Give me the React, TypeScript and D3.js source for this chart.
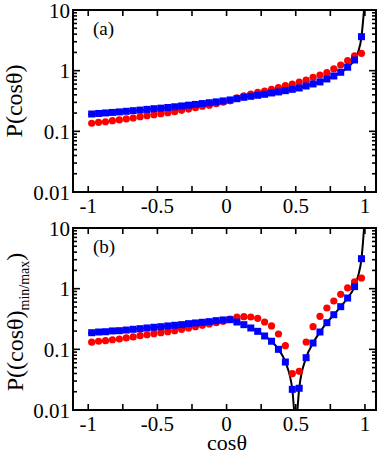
import { useEffect, useRef } from 'react';
import * as d3 from 'd3';

// cos(theta) bin centres shared by all marker series
const cosBins = [
  -0.975, -0.925, -0.875, -0.825, -0.775, -0.725, -0.675, -0.625, -0.575, -0.525,
  -0.475, -0.425, -0.375, -0.325, -0.275, -0.225, -0.175, -0.125, -0.075, -0.025,
  0.025, 0.075, 0.125, 0.175, 0.225, 0.275, 0.325, 0.375, 0.425, 0.475,
  0.525, 0.575, 0.625, 0.675, 0.725, 0.775, 0.825, 0.875, 0.925, 0.975,
];

// panel (a)
const redA = [
  0.136, 0.141, 0.144, 0.15, 0.154, 0.16, 0.166, 0.174, 0.181, 0.188,
  0.195, 0.203, 0.211, 0.222, 0.233, 0.245, 0.259, 0.269, 0.285, 0.303,
  0.318, 0.358, 0.383, 0.412, 0.44, 0.462, 0.493, 0.524, 0.565, 0.603,
  0.651, 0.702, 0.778, 0.849, 0.925, 1.07, 1.24, 1.46, 1.75, 1.93,
];
const blueA = [
  0.193, 0.197, 0.201, 0.205, 0.209, 0.214, 0.219, 0.224, 0.23, 0.236,
  0.241, 0.247, 0.254, 0.262, 0.27, 0.278, 0.287, 0.296, 0.306, 0.317,
  0.329, 0.345, 0.364, 0.378, 0.393, 0.408, 0.429, 0.446, 0.468, 0.493,
  0.518, 0.559, 0.604, 0.652, 0.73, 0.817, 0.94, 1.14, 1.5, 3.63,
];
const curveAx = [-1, -0.8, -0.6, -0.4, -0.2, 0, 0.2, 0.4, 0.6, 0.7, 0.8, 0.85, 0.9, 0.925, 0.95, 0.975, 0.985, 0.995];
const curveAy = [0.19, 0.207, 0.227, 0.25, 0.282, 0.322, 0.385, 0.457, 0.58, 0.69, 0.87, 1.02, 1.28, 1.5, 2.0, 3.6, 6.0, 11];

// panel (b)
const redB = [
  0.131, 0.136, 0.139, 0.144, 0.148, 0.154, 0.16, 0.168, 0.174, 0.181,
  0.188, 0.195, 0.203, 0.214, 0.225, 0.236, 0.249, 0.262, 0.275, 0.29,
  0.315, 0.341, 0.345, 0.341, 0.325, 0.282, 0.243, 0.179, 0.115, 0.0397,
  0.0434, 0.132, 0.236, 0.35, 0.48, 0.626, 0.806, 1.03, 1.3, 1.5,
];
const blueB = [
  0.188, 0.193, 0.195, 0.201, 0.203, 0.208, 0.214, 0.219, 0.225, 0.231,
  0.236, 0.243, 0.249, 0.255, 0.265, 0.272, 0.279, 0.286, 0.297, 0.305,
  0.308, 0.282, 0.255, 0.225, 0.198, 0.166, 0.136, 0.1, 0.0618, 0.0219,
  0.0228, 0.0728, 0.127, 0.193, 0.275, 0.372, 0.505, 0.701, 1.08, 3.12,
];
const curveBx = [
  -1, -0.5, -0.25, -0.05, 0.025, 0.075, 0.125, 0.175, 0.225, 0.275, 0.325, 0.375, 0.425, 0.475,
  0.488, 0.5, 0.512, 0.525, 0.575, 0.625, 0.675, 0.725, 0.775, 0.825, 0.875, 0.925, 0.95, 0.975, 0.985, 0.995,
];
const curveBy = [
  0.185, 0.233, 0.268, 0.3, 0.308, 0.282, 0.255, 0.225, 0.198, 0.166, 0.136, 0.1, 0.0618, 0.0219,
  0.01, 0.005, 0.01, 0.0228, 0.0728, 0.127, 0.193, 0.275, 0.372, 0.505, 0.701, 1.08, 1.6, 3.12, 5.5, 11,
];

const xTickValues = [-1, -0.75, -0.5, -0.25, 0, 0.25, 0.5, 0.75, 1];
const xLabelValues = [-1, -0.5, 0, 0.5, 1];
const xLabels = ['-1', '-0.5', '0', '0.5', '1'];
const yLabelValues = [10, 1, 0.1, 0.01];
const yLabels = ['10', '1', '0.1', '0.01'];

const FONT = 'Liberation Serif, Times New Roman, Times, serif';
const W = 382;
const H = 454;
const LEFT = 73;
const RIGHT = 376;

function drawPanel(svg, { top, bottom, red, blue, cx, cy, tag, id }) {
  const x = d3.scaleLinear().domain([-1.11, 1.08]).range([LEFT, RIGHT]);
  const y = d3.scaleLog().domain([0.01, 10]).range([bottom, top]);
  const g = svg.append('g');

  g.append('clipPath')
    .attr('id', id)
    .append('rect')
    .attr('x', LEFT)
    .attr('y', top)
    .attr('width', RIGHT - LEFT)
    .attr('height', bottom - top);

  const plot = g.append('g').attr('clip-path', `url(#${id})`);

  const curve = cx.map((v, i) => [v, cy[i]]);
  plot
    .append('path')
    .datum(curve)
    .attr('fill', 'none')
    .attr('stroke', '#000')
    .attr('stroke-width', 2)
    .attr(
      'd',
      d3
        .line()
        .x((d) => x(d[0]))
        .y((d) => y(d[1]))
        .curve(d3.curveMonotoneX),
    );

  plot
    .selectAll('circle')
    .data(cosBins.map((v, i) => [v, red[i]]))
    .join('circle')
    .attr('cx', (d) => x(d[0]))
    .attr('cy', (d) => y(d[1]))
    .attr('r', 3.6)
    .attr('fill', '#ff0000');

  const s = 7;
  plot
    .selectAll('rect.sq')
    .data(cosBins.map((v, i) => [v, blue[i]]))
    .join('rect')
    .attr('class', 'sq')
    .attr('x', (d) => x(d[0]) - s / 2)
    .attr('y', (d) => y(d[1]) - s / 2)
    .attr('width', s)
    .attr('height', s)
    .attr('fill', '#0000ff');

  // frame
  g.append('rect')
    .attr('x', LEFT)
    .attr('y', top)
    .attr('width', RIGHT - LEFT)
    .attr('height', bottom - top)
    .attr('fill', 'none')
    .attr('stroke', '#000')
    .attr('stroke-width', 2);

  // x ticks, bottom and top, inward
  xTickValues.forEach((v) => {
    g.append('line')
      .attr('x1', x(v)).attr('x2', x(v))
      .attr('y1', bottom).attr('y2', bottom - 6)
      .attr('stroke', '#000').attr('stroke-width', 1.6);
    g.append('line')
      .attr('x1', x(v)).attr('x2', x(v))
      .attr('y1', top).attr('y2', top + 6)
      .attr('stroke', '#000').attr('stroke-width', 1.6);
  });

  // y ticks, majors at decades, minors in between
  y.ticks().forEach((v) => {
    const l = Math.log10(v);
    const major = Math.abs(l - Math.round(l)) < 1e-6;
    const len = major ? 7 : 4;
    g.append('line')
      .attr('x1', LEFT).attr('x2', LEFT + len)
      .attr('y1', y(v)).attr('y2', y(v))
      .attr('stroke', '#000').attr('stroke-width', 1.6);
    g.append('line')
      .attr('x1', RIGHT).attr('x2', RIGHT - len)
      .attr('y1', y(v)).attr('y2', y(v))
      .attr('stroke', '#000').attr('stroke-width', 1.6);
  });

  g.selectAll('text.ylab')
    .data(yLabelValues)
    .join('text')
    .attr('class', 'ylab')
    .attr('x', LEFT - 3)
    .attr('y', (d) => y(d) + 7.5)
    .attr('text-anchor', 'end')
    .attr('font-family', FONT)
    .attr('font-size', 21)
    .text((d, i) => yLabels[i]);

  g.selectAll('text.xlab')
    .data(xLabelValues)
    .join('text')
    .attr('class', 'xlab')
    .attr('x', (d) => x(d))
    .attr('y', bottom + 21)
    .attr('text-anchor', 'middle')
    .attr('font-family', FONT)
    .attr('font-size', 21)
    .text((d, i) => xLabels[i]);

  g.append('text')
    .attr('x', LEFT + 20)
    .attr('y', top + 25)
    .attr('font-family', FONT)
    .attr('font-size', 19)
    .text(tag);

  return g;
}

export default function App() {
  const ref = useRef(null);

  useEffect(() => {
    document.body.style.margin = '0';
    const svg = d3.select(ref.current);
    svg.selectAll('*').remove();

    drawPanel(svg, { top: 10, bottom: 192, red: redA, blue: blueA, cx: curveAx, cy: curveAy, tag: '(a)', id: 'clipA' });
    drawPanel(svg, { top: 228, bottom: 410, red: redB, blue: blueB, cx: curveBx, cy: curveBy, tag: '(b)', id: 'clipB' });

    svg.append('text')
      .attr('transform', 'translate(22,101) rotate(-90)')
      .attr('text-anchor', 'middle')
      .attr('font-family', FONT)
      .attr('font-size', 24)
      .text('P(cosθ)');

    const lb = svg.append('text')
      .attr('transform', 'translate(23,322) rotate(-90)')
      .attr('text-anchor', 'middle')
      .attr('font-family', FONT)
      .attr('font-size', 24);
    lb.append('tspan').text('P((cosθ)');
    lb.append('tspan').attr('font-size', 14).attr('dy', 6).text('min/max');
    lb.append('tspan').attr('dy', -6).text(')');

    svg.append('text')
      .attr('x', 227)
      .attr('y', 450)
      .attr('text-anchor', 'middle')
      .attr('font-family', FONT)
      .attr('font-size', 22)
      .text('cosθ');
  }, []);

  return <svg ref={ref} width={W} height={H} style={{ display: 'block' }} />;
}
